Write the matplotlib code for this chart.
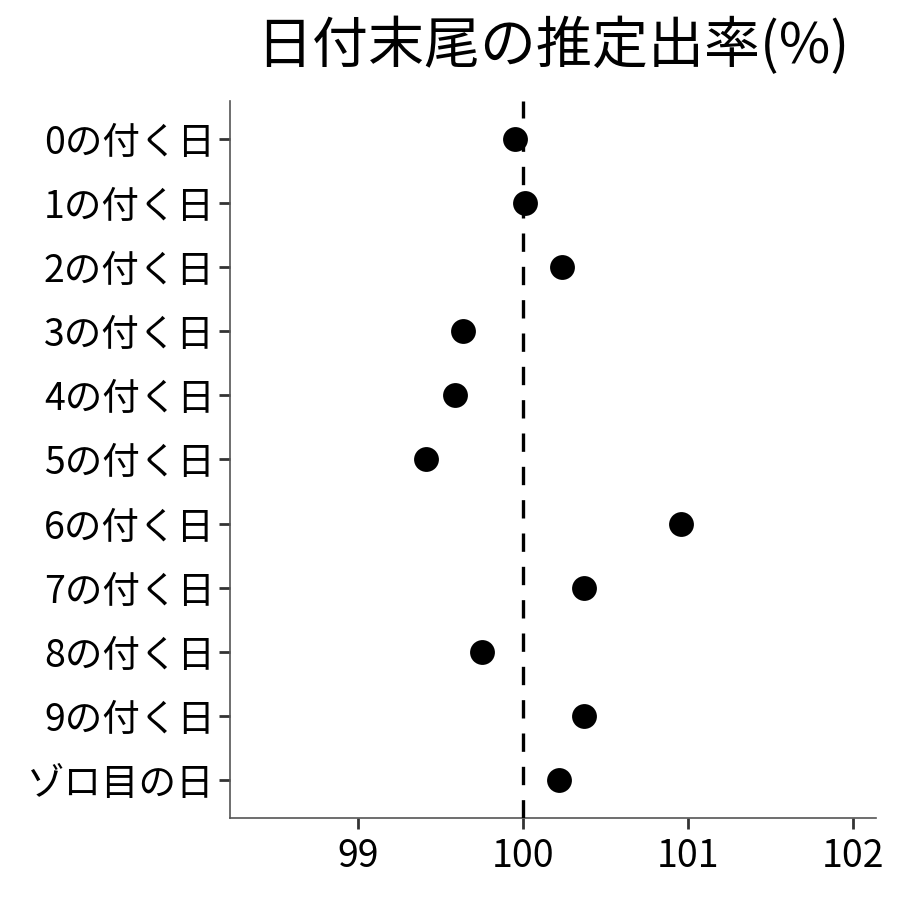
import matplotlib
matplotlib.use("Agg")
import matplotlib.pyplot as plt

plt.rcParams['font.family'] = ['Noto Sans CJK JP', 'DejaVu Sans']

labels = ['0の付く日', '1の付く日', '2の付く日', '3の付く日', '4の付く日',
          '5の付く日', '6の付く日', '7の付く日', '8の付く日', '9の付く日',
          'ゾロ目の日']
rates = [99.95, 100.01, 100.24, 99.64, 99.59, 99.41, 100.96, 100.37,
         99.75, 100.37, 100.22]
xticks = [99, 100, 101, 102]

fig = plt.figure(figsize=(9, 9), dpi=100)
ax = fig.add_axes([0.2556, 0.0911, 0.7177, 0.7967])

ypos = list(range(len(labels)))[::-1]
ax.scatter(rates, ypos, s=320, color='black', zorder=3, linewidths=0)
ax.axvline(100, color='black', linewidth=2.4, dashes=(5.5, 4.5), zorder=4)

ax.set_xlim(98.225, 102.14)
ax.set_ylim(-0.6, len(labels) - 0.4)
ax.set_xticks(xticks)
ax.set_xticklabels([str(t) for t in xticks])
ax.set_yticks(ypos)
ax.set_yticklabels(labels)

for side in ['top', 'right']:
    ax.spines[side].set_visible(False)
for side in ['left', 'bottom']:
    ax.spines[side].set_color('#555555')
    ax.spines[side].set_linewidth(1.2)
ax.tick_params(axis='both', length=8, width=2, color='#333333',
               labelsize=27, labelcolor='black')
ax.tick_params(axis='y', pad=3)
ax.tick_params(axis='x', pad=6)

fig.text(0.6144, 0.948, '日付末尾の推定出率(%)', ha='center', va='center',
         fontsize=40.3)

fig.savefig('out.png', dpi=100, facecolor='white')
